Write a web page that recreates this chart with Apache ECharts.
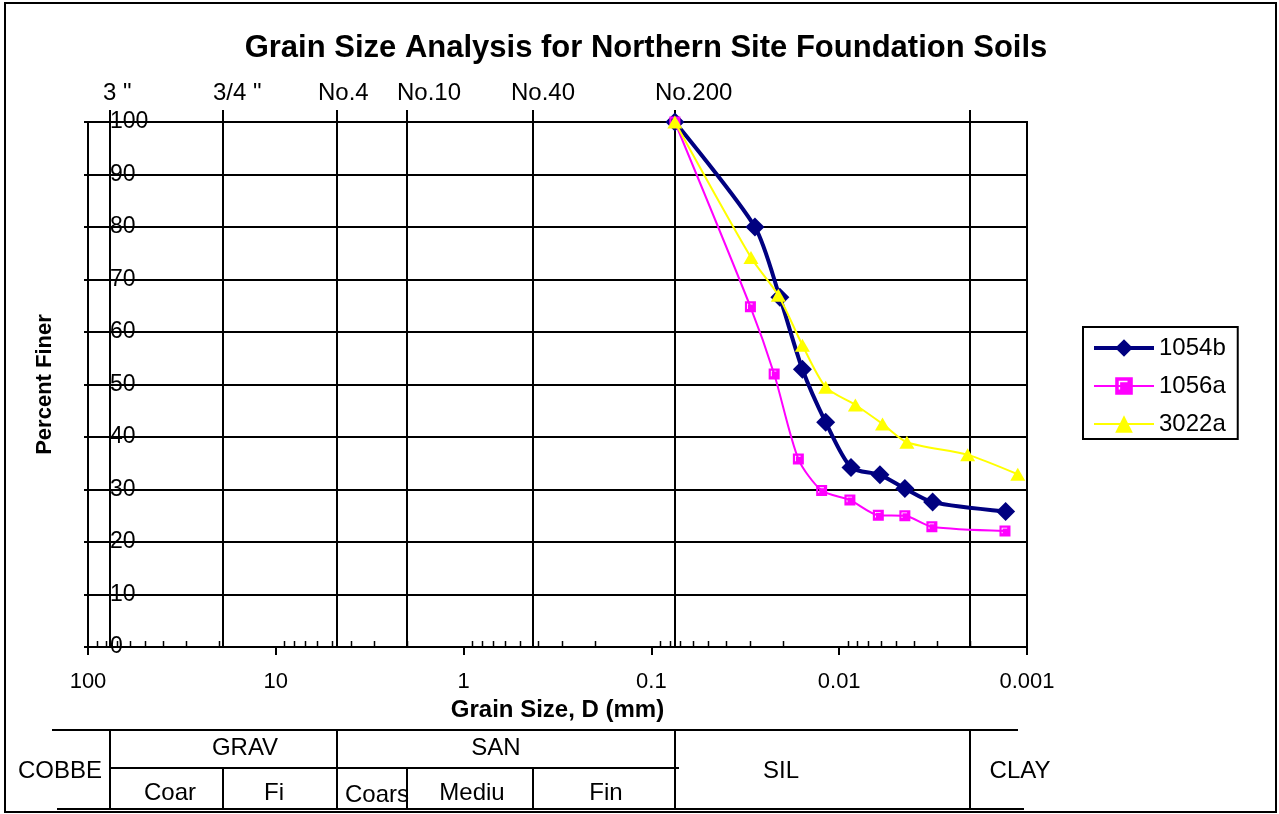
<!DOCTYPE html>
<html>
<head>
<meta charset="utf-8">
<script src="https://cdn.jsdelivr.net/npm/echarts@6/dist/echarts.min.js"></script>
<style>
  html, body { margin: 0; padding: 0; background: #fff; }
  #chart { width: 1279px; height: 814px; }
</style>
</head>
<body>
<div id="chart"></div>
<script>
// Grain size distribution, percent finer vs. particle diameter (mm)
const FONT = '"Liberation Sans", Arial, Helvetica, sans-serif';

const xTickValues = [100, 10, 1, 0.1, 0.01, 0.001];
const yTickValues = [0, 10, 20, 30, 40, 50, 60, 70, 80, 90, 100];

// US standard sieve openings (mm) and their names
const sieveNames = ['3 "', '3/4 "', 'No.4', 'No.10', 'No.40', 'No.200'];
const sieveSizes = [76.2, 19.0, 4.75, 2.0, 0.425, 0.075];
const siltClayLimit = 0.002;

// [diameter mm, percent finer]
const sample1054b = [
  [0.075, 100], [0.0281, 80.0], [0.0207, 66.6], [0.0157, 52.9], [0.0118, 42.8],
  [0.00865, 34.2], [0.00607, 32.8], [0.00447, 30.2], [0.00318, 27.6], [0.00130, 25.8]
];
const sample1056a = [
  [0.075, 100], [0.0297, 64.8], [0.0222, 52.0], [0.0165, 35.8], [0.0124, 29.8],
  [0.00877, 28.0], [0.00619, 25.1], [0.00447, 25.0], [0.00321, 22.9], [0.00131, 22.1]
];
const sample3022a = [
  [0.075, 100], [0.0295, 74.2], [0.0211, 67.0], [0.0157, 57.5], [0.0118, 49.5],
  [0.0082, 46.1], [0.00588, 42.5], [0.00436, 39.0], [0.00207, 36.6], [0.00112, 32.9]
];

// Soil classification bands under the chart
const bandTop = ['COBBE', 'GRAV', 'SAN', 'SIL', 'CLAY'];
const bandSub = ['Coar', 'Fi', 'Coars', 'Mediu', 'Fin'];

const chart = echarts.init(document.getElementById('chart'), null, { renderer: 'canvas' });

const squareSymbol = 'path://M0,0H10V10H0Z M2,2V7H2.8V2.8H7V2Z';

function minorTickValues() {
  const out = [];
  for (let e = -3; e < 2; e++) {
    for (let m = 2; m <= 9; m++) out.push(m * Math.pow(10, e));
  }
  return out;
}
const minorTicks = minorTickValues();

// Sieve lines, minor log ticks and the classification table, all placed on the x scale
function renderFrame(params, api) {
  const children = [];
  const top = api.coord([1, 100])[1];
  const bottom = api.coord([1, 0])[1];
  const L = (x1, y1, x2, y2, w) => ({
    type: 'line',
    shape: { x1, y1, x2, y2 },
    style: { stroke: '#000', lineWidth: w || 2 },
    silent: true
  });
  const xs = sieveSizes.map(d => Math.round(api.coord([d, 0])[0]));
  const xClay = Math.round(api.coord([siltClayLimit, 0])[0]);

  xs.concat([xClay]).forEach(x => children.push(L(x, top - 12, x, bottom)));

  minorTicks.forEach(v => {
    const x = Math.round(api.coord([v, 0])[0]) + 0.5;
    children.push(L(x, bottom - 6, x, bottom, 1.5));
  });

  const t0 = bottom + 83, t1 = bottom + 121, t2 = bottom + 162;
  children.push(L(52, t0, 1018, t0));
  children.push(L(xs[0], t1, xs[5] + 4, t1));
  children.push(L(57, t2, 1024, t2));
  [xs[0], xs[2], xs[5], xClay].forEach(x => children.push(L(x, t0, x, t2)));
  [xs[1], xs[3], xs[4]].forEach(x => children.push(L(x, t1, x, t2)));

  return { type: 'group', children };
}

const textStyle = (x, y, text, size, weight, align) => ({
  type: 'text',
  x, y,
  style: {
    text,
    fill: '#000',
    font: (weight || 'normal') + ' ' + size + 'px ' + FONT,
    textAlign: align || 'center',
    textVerticalAlign: 'middle'
  },
  silent: true
});

const sieveLabelLeft = [103, 213, 318, 397, 511, 655];

const option = {
  backgroundColor: '#fff',
  animation: false,
  title: {
    text: 'Grain Size Analysis for Northern Site Foundation Soils',
    left: 641,
    top: 28,
    textAlign: 'center',
    textStyle: { fontFamily: FONT, fontSize: 31, fontWeight: 'bold', color: '#000' }
  },
  grid: {
    left: 88, top: 122, right: 252, bottom: 167,
    show: true, borderColor: '#000', borderWidth: 2,
    containLabel: false, outerBoundsMode: 'none'
  },
  legend: {
    orient: 'vertical',
    left: 1083, top: 327,
    padding: [9, 12, 3, 9],
    itemGap: 14,
    itemWidth: 60, itemHeight: 22,
    borderColor: '#000', borderWidth: 2,
    textStyle: { fontFamily: FONT, fontSize: 24, color: '#000' },
    data: [
      { name: '1054b', lineStyle: { width: 4 } },
      { name: '1056a', lineStyle: { width: 2 } },
      { name: '3022a', lineStyle: { width: 2 } }
    ]
  },
  xAxis: {
    type: 'log',
    logBase: 10,
    min: 0.001, max: 100,
    inverse: true,
    name: 'Grain Size, D (mm)',
    nameLocation: 'middle',
    nameGap: 49,
    nameTextStyle: { fontFamily: FONT, fontSize: 24, fontWeight: 'bold', color: '#000' },
    axisLine: { show: true, lineStyle: { color: '#000', width: 2 } },
    axisTick: { show: true, length: 8, lineStyle: { color: '#000', width: 2 } },
    splitLine: { show: false },
    minorTick: { show: false },
    axisLabel: {
      margin: 24,
      fontFamily: FONT, fontSize: 22, color: '#000',
      formatter: v => String(+(+v).toPrecision(3))
    }
  },
  yAxis: {
    type: 'value',
    min: 0, max: 100, interval: 10,
    name: 'Percent Finer',
    nameLocation: 'middle',
    nameRotate: 90,
    nameGap: 32,
    nameTextStyle: { fontFamily: FONT, fontSize: 22, fontWeight: 'bold', color: '#000' },
    axisLine: { show: true, lineStyle: { color: '#000', width: 2 } },
    axisTick: { show: true, length: 4, lineStyle: { color: '#000', width: 2 } },
    splitLine: { show: true, lineStyle: { color: '#000', width: 2 } },
    axisLabel: {
      inside: true,
      margin: 22,
      fontFamily: FONT, fontSize: 23, color: '#000'
    }
  },
  graphic: [
    {
      type: 'rect',
      shape: { x: 5, y: 3, width: 1271, height: 809 },
      style: { fill: 'none', stroke: '#000', lineWidth: 2 },
      silent: true, z: -10
    },
    ...sieveNames.map((n, i) => textStyle(sieveLabelLeft[i], 93, n, 24, 'normal', 'left')),
    textStyle(60, 771, bandTop[0], 24),
    textStyle(245, 748, bandTop[1], 24),
    textStyle(496, 748, bandTop[2], 24),
    textStyle(781, 771, bandTop[3], 24),
    textStyle(1020, 771, bandTop[4], 24),
    textStyle(170, 793, bandSub[0], 24),
    textStyle(274, 793, bandSub[1], 24),
    textStyle(345, 795, bandSub[2], 24, 'normal', 'left'),
    textStyle(472, 793, bandSub[3], 24),
    textStyle(606, 793, bandSub[4], 24)
  ],
  series: [
    {
      type: 'custom',
      name: 'frame',
      clip: false,
      silent: true,
      z: 1,
      renderItem: renderFrame,
      data: [[1, 50]]
    },
    {
      name: '1054b',
      type: 'line',
      data: sample1054b,
      smooth: 0.25,
      symbol: 'diamond',
      symbolSize: 19,
      lineStyle: { color: '#000080', width: 4 },
      itemStyle: { color: '#000080' },
      z: 3
    },
    {
      name: '1056a',
      type: 'line',
      data: sample1056a,
      smooth: 0.25,
      symbol: squareSymbol,
      symbolSize: 11,
      lineStyle: { color: '#FF00FF', width: 2 },
      itemStyle: { color: '#FF00FF' },
      z: 4
    },
    {
      name: '3022a',
      type: 'line',
      data: sample3022a,
      smooth: 0.25,
      symbol: 'triangle',
      symbolSize: [15, 13],
      lineStyle: { color: '#FFFF00', width: 2 },
      itemStyle: { color: '#FFFF00' },
      z: 5
    }
  ]
};

chart.setOption(option);
</script>
</body>
</html>
